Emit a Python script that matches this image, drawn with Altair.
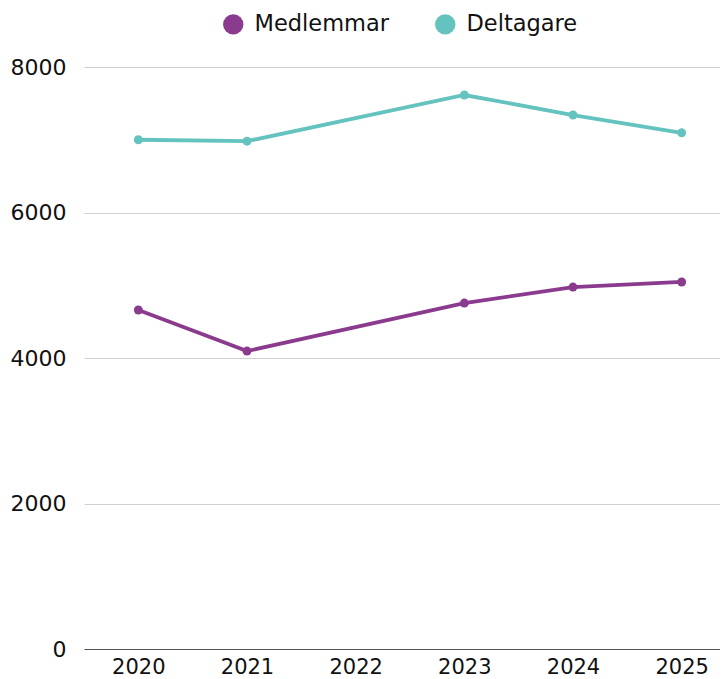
import altair as alt
import pandas as pd

years = ["2020", "2021", "2022", "2023", "2024", "2025"]
data_years = ["2020", "2021", "2023", "2024", "2025"]
medlemmar = [4660, 4095, 4755, 4975, 5045]
deltagare = [7000, 6980, 7615, 7340, 7095]
series = ["Medlemmar", "Deltagare"]
colors = ["#8B3B8E", "#64C3BF"]

rows = []
for y, v in zip(data_years, medlemmar):
    rows.append({"year": y, "value": v, "series": "Medlemmar"})
for y, v in zip(data_years, deltagare):
    rows.append({"year": y, "value": v, "series": "Deltagare"})
df = pd.DataFrame(rows)

FONT = "DejaVu Sans"

x = alt.X("year:O", scale=alt.Scale(domain=years, type="point", padding=0.5, range=[0, 652]),
          axis=alt.Axis(title=None, labelAngle=0, labelFontSize=21, labelColor="#111",
                        ticks=False, domainColor="#555", domainWidth=1, labelPadding=7,
                        labelFont=FONT, grid=False))
y = alt.Y("value:Q", scale=alt.Scale(domain=[0, 8000], nice=False),
          axis=alt.Axis(title=None, values=[0, 2000, 4000, 6000, 8000], format="d",
                        labelFontSize=22, labelColor="#111", ticks=False, domain=False,
                        gridColor="#d0d0d0", labelPadding=18, labelFont=FONT))
color = alt.Color("series:N", scale=alt.Scale(domain=series, range=colors),
                  legend=alt.Legend(title=None, orient="none", legendX=138, legendY=-54,
                                    direction="horizontal",
                                    symbolType="circle", symbolSize=415, symbolStrokeWidth=0,
                                    labelFontSize=22.5, labelFont=FONT, labelColor="#111",
                                    columnPadding=44, labelOffset=10))

base = alt.Chart(df)
lines = base.mark_line(strokeWidth=3.8).encode(x=x, y=y, color=color)
points = base.mark_circle(size=80, opacity=1).encode(
    x=x, y=y,
    color=alt.Color("series:N", scale=alt.Scale(domain=series, range=colors), legend=None))

chart = (lines + points).properties(
    width=636, height=582,
    autosize=alt.AutoSizeParams(type="none"),
    padding={"left": 76, "top": 59, "right": 0, "bottom": 32},
).configure(font=FONT).configure_view(stroke=None)

chart.save("out.html", embed_options={"renderer": "svg", "actions": False})
